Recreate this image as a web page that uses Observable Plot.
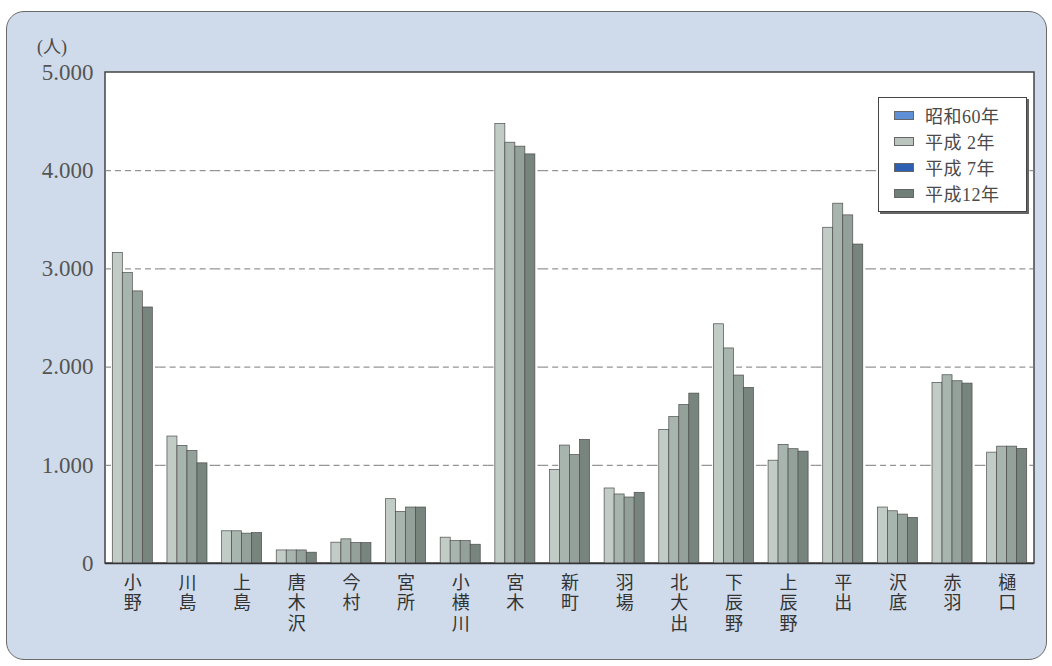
<!DOCTYPE html>
<html>
<head>
<meta charset="utf-8">
<script src="https://cdn.jsdelivr.net/npm/d3@7"></script>
<script src="https://cdn.jsdelivr.net/npm/@observablehq/plot@0.6"></script>
<style>
  body { margin: 0; background: #fff; }
  #wrap { position: relative; width: 1052px; height: 666px; overflow: hidden; }
  #panel { position: absolute; left: 6px; top: 11px; width: 1039px; height: 647px;
           background: #cfdbeb; border: 1.5px solid #6a6a6a; border-radius: 18px; }
  #chart { position: absolute; left: 0; top: 0; }
  #unit { position: absolute; left: 37px; top: 32px; color: #4a4a4a;
          font: 18px "Liberation Serif", "Noto Sans CJK JP", serif; }
  #legend { position: absolute; left: 878px; top: 97px; width: 149px; height: 115px;
            background: #fff; border: 1px solid #444; box-shadow: 2px 2px 0 #666;
            box-sizing: border-box; padding-top: 4px; }
  .item { display: flex; align-items: center; height: 26px; }
  .sw { width: 20px; height: 9px; margin-left: 15px; margin-right: 11px; border: 1px solid #666; box-sizing: border-box; }
  .lb { font: 18px "Liberation Serif", "Noto Sans CJK JP", serif; color: #4a4a4a; white-space: pre; letter-spacing: 0.5px; }
</style>
</head>
<body>
<div id="wrap">
  <div id="panel"></div>
  <div id="chart"></div>
  <div id="unit">(人)</div>
  <div id="legend"></div>
</div>
<script>
// 地区名
const categories = ["小野", "川島", "上島", "唐木沢", "今村", "宮所", "小横川", "宮木", "新町",
  "羽場", "北大出", "下辰野", "上辰野", "平出", "沢底", "赤羽", "樋口"];

// 調査年
const seriesNames = ["昭和60年", "平成 2年", "平成 7年", "平成12年"];

// 地区別人口（人）
const showa60 = [3163, 1293, 328, 133, 212, 655, 263, 4476, 952, 764, 1361, 2436, 1047, 3419, 570, 1839, 1129];
const heisei2 = [2958, 1198, 328, 133, 246, 525, 228, 4285, 1201, 703, 1491, 2190, 1208, 3664, 532, 1917, 1190];
const heisei7 = [2771, 1146, 304, 133, 208, 570, 228, 4245, 1105, 672, 1614, 1914, 1164, 3545, 498, 1856, 1190];
const heisei12 = [2607, 1020, 310, 110, 208, 570, 191, 4166, 1259, 720, 1730, 1788, 1139, 3248, 464, 1832, 1167];
const seriesValues = [showa60, heisei2, heisei7, heisei12];

const yTicks = [0, 1000, 2000, 3000, 4000, 5000];
const gridTicks = [1000, 2000, 3000, 4000];

const barColors = ["#c2ccc6", "#a8b5ae", "#93a19a", "#77857e"];
const legendColors = ["#5f8fd6", "#b9c5bd", "#2f5fb3", "#6f7e77"];

const rows = categories.flatMap((c, i) =>
  seriesNames.map((s, j) => ({category: c, series: s, value: seriesValues[j][i]})));

const plot = Plot.plot({
  width: 1052,
  height: 666,
  marginLeft: 105,
  marginRight: 18,
  marginTop: 72,
  marginBottom: 103,
  style: {background: "transparent", fontFamily: "'Liberation Serif', 'Noto Sans CJK JP', serif", overflow: "visible"},
  fx: {domain: categories, padding: 0, round: false, label: null},
  x: {domain: seriesNames, paddingInner: 0, paddingOuter: 0.73, round: false, axis: null},
  y: {domain: [0, 5000], label: null},
  color: {domain: seriesNames, range: barColors},
  marks: [
    Plot.gridY(gridTicks, {stroke: "#7a7a7a", strokeOpacity: 1, strokeWidth: 1, strokeDasharray: "6,4"}),
    Plot.barY(rows, {fx: "category", x: "series", y: "value", fill: "series", stroke: "#4d4d4d", strokeWidth: 0.7}),
    Plot.ruleY([0], {stroke: "#333", strokeWidth: 1.5}),
    Plot.axisY(yTicks, {tickSize: 0, tickPadding: 12, fontSize: 23, fill: "#555",
      tickFormat: d => d3.format(",")(d).replace(/,/g, "."), label: null}),
    // category names stacked one character per line
    Plot.axisFx({anchor: "bottom", tickSize: 0, tickPadding: 11, fontSize: 18, lineHeight: 1.13,
      fill: "#333", fontFamily: "'Noto Sans CJK JP', sans-serif",
      tickFormat: d => [...d].join("\n"), label: null})
  ]
});

// white plotting area with its frame, sized from the plot's own scales
const [x0, x1] = plot.scale("fx").range;
const [y0, y1] = plot.scale("y").range;
d3.select(plot).insert("rect", ":first-child")
  .attr("x", Math.min(x0, x1)).attr("y", Math.min(y0, y1))
  .attr("width", Math.abs(x1 - x0)).attr("height", Math.abs(y0 - y1))
  .attr("fill", "#fff").attr("stroke", "#444").attr("stroke-width", 1.5);

document.getElementById("chart").appendChild(plot);

// legend
const legend = d3.select("#legend");
seriesNames.forEach((s, i) => {
  const it = legend.append("div").attr("class", "item");
  it.append("div").attr("class", "sw").style("background", legendColors[i]);
  it.append("div").attr("class", "lb").text(s);
});
</script>
</body>
</html>
